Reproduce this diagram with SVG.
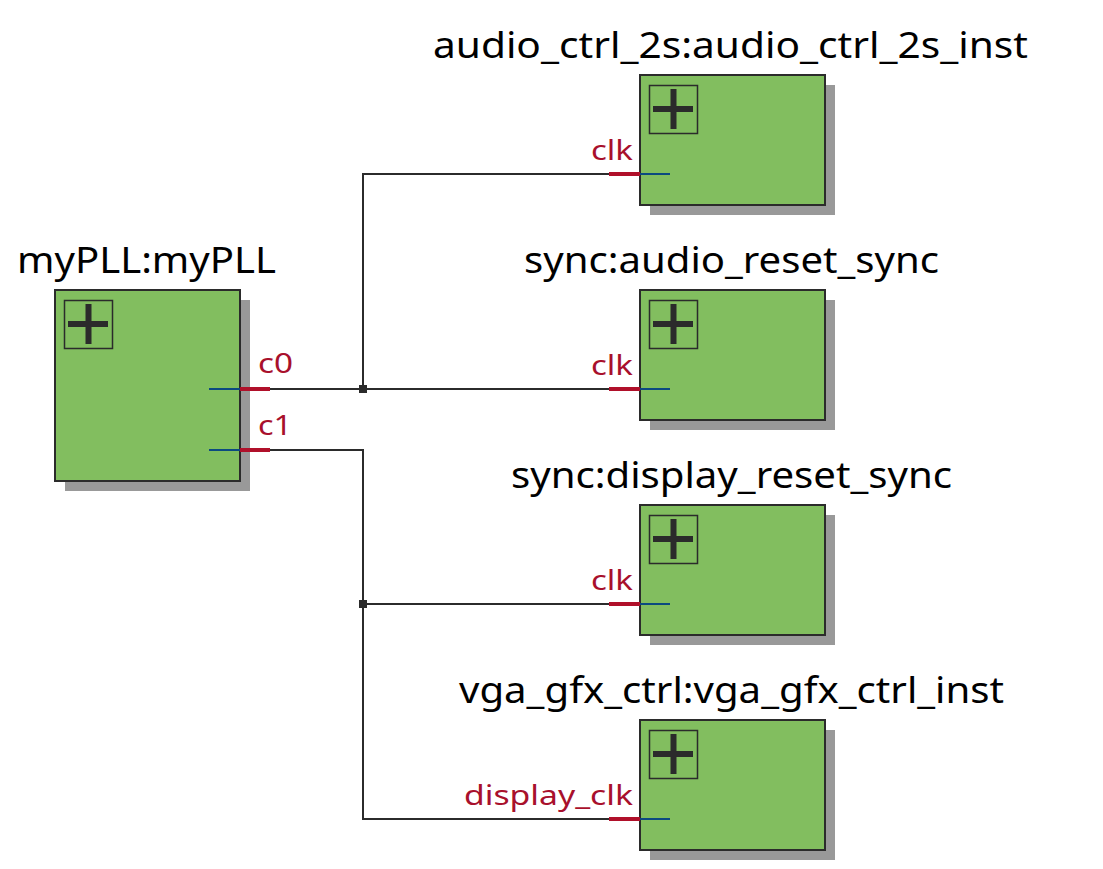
<svg xmlns="http://www.w3.org/2000/svg" width="1103" height="869" viewBox="0 0 1103 869">
<style>
.shadow{fill:#999999}
.box{fill:#82BE5F;stroke:#2b2b2b;stroke-width:2}
.icon{fill:none;stroke:#2b2b2b;stroke-width:1.5}
.plus{stroke:#2b2b2b;stroke-width:6}
.title{font-family:"Noto Sans","Open Sans",sans-serif;font-size:37px;fill:#000}
.plabel{font-family:"Noto Sans","Open Sans",sans-serif;font-size:27px;fill:#A8102C}
.pin{stroke:#B0102A;stroke-width:4}
.inner{stroke:#0B4A80;stroke-width:2}
.wire{stroke:#2b2b2b;stroke-width:2;fill:none}
.dot{fill:#2b2b2b}
</style>
<defs>
<g id="blk">
<path class="icon" d="M9.5,10.5h48v48h-48z"/>
<path class="plus" d="M13,34h40M33.5,14v40"/>
</g>
</defs>
<g id="connectors">
<path class="wire" d="M270,389H609M363,389V174H609M270,450H363V819H609M363,604H609"/>
<rect class="dot" x="359" y="385" width="8" height="8"/>
<rect class="dot" x="359" y="600" width="8" height="8"/>
</g>
<g id="myPLL">
<text class="title" x="17" y="273" textLength="259" lengthAdjust="spacingAndGlyphs">myPLL:myPLL</text>
<rect class="shadow" x="65" y="300" width="185" height="191"/>
<rect class="box" x="55" y="290" width="185" height="191"/>
<use href="#blk" x="55" y="290"/>
<line class="inner" x1="209" y1="389" x2="240" y2="389"/>
<line class="pin" x1="240" y1="389" x2="270" y2="389"/>
<text class="plabel" x="258" y="373" textLength="35" lengthAdjust="spacingAndGlyphs">c0</text>
<line class="inner" x1="209" y1="450" x2="240" y2="450"/>
<line class="pin" x1="240" y1="450" x2="270" y2="450"/>
<text class="plabel" x="258" y="435" textLength="34" lengthAdjust="spacingAndGlyphs">c1</text>
</g>
<g id="audio_ctrl_2s_inst">
<text class="title" x="433" y="58" textLength="595" lengthAdjust="spacingAndGlyphs">audio_ctrl_2s:audio_ctrl_2s_inst</text>
<rect class="shadow" x="650" y="85" width="185" height="130"/>
<rect class="box" x="640" y="75" width="185" height="130"/>
<use href="#blk" x="640" y="75"/>
<line class="pin" x1="609" y1="174" x2="640" y2="174"/>
<line class="inner" x1="640" y1="174" x2="670" y2="174"/>
<text class="plabel" x="591" y="160" textLength="42" lengthAdjust="spacingAndGlyphs">clk</text>
</g>
<g id="audio_reset_sync">
<text class="title" x="524" y="273" textLength="415" lengthAdjust="spacingAndGlyphs">sync:audio_reset_sync</text>
<rect class="shadow" x="650" y="300" width="185" height="130"/>
<rect class="box" x="640" y="290" width="185" height="130"/>
<use href="#blk" x="640" y="290"/>
<line class="pin" x1="609" y1="389" x2="640" y2="389"/>
<line class="inner" x1="640" y1="389" x2="670" y2="389"/>
<text class="plabel" x="591" y="375" textLength="42" lengthAdjust="spacingAndGlyphs">clk</text>
</g>
<g id="display_reset_sync">
<text class="title" x="511" y="488" textLength="441" lengthAdjust="spacingAndGlyphs">sync:display_reset_sync</text>
<rect class="shadow" x="650" y="515" width="185" height="130"/>
<rect class="box" x="640" y="505" width="185" height="130"/>
<use href="#blk" x="640" y="505"/>
<line class="pin" x1="609" y1="604" x2="640" y2="604"/>
<line class="inner" x1="640" y1="604" x2="670" y2="604"/>
<text class="plabel" x="591" y="590" textLength="42" lengthAdjust="spacingAndGlyphs">clk</text>
</g>
<g id="vga_gfx_ctrl_inst">
<text class="title" x="459" y="703" textLength="545" lengthAdjust="spacingAndGlyphs">vga_gfx_ctrl:vga_gfx_ctrl_inst</text>
<rect class="shadow" x="650" y="730" width="185" height="130"/>
<rect class="box" x="640" y="720" width="185" height="130"/>
<use href="#blk" x="640" y="720"/>
<line class="pin" x1="609" y1="819" x2="640" y2="819"/>
<line class="inner" x1="640" y1="819" x2="670" y2="819"/>
<text class="plabel" x="464" y="805" textLength="169" lengthAdjust="spacingAndGlyphs">display_clk</text>
</g>
</svg>
